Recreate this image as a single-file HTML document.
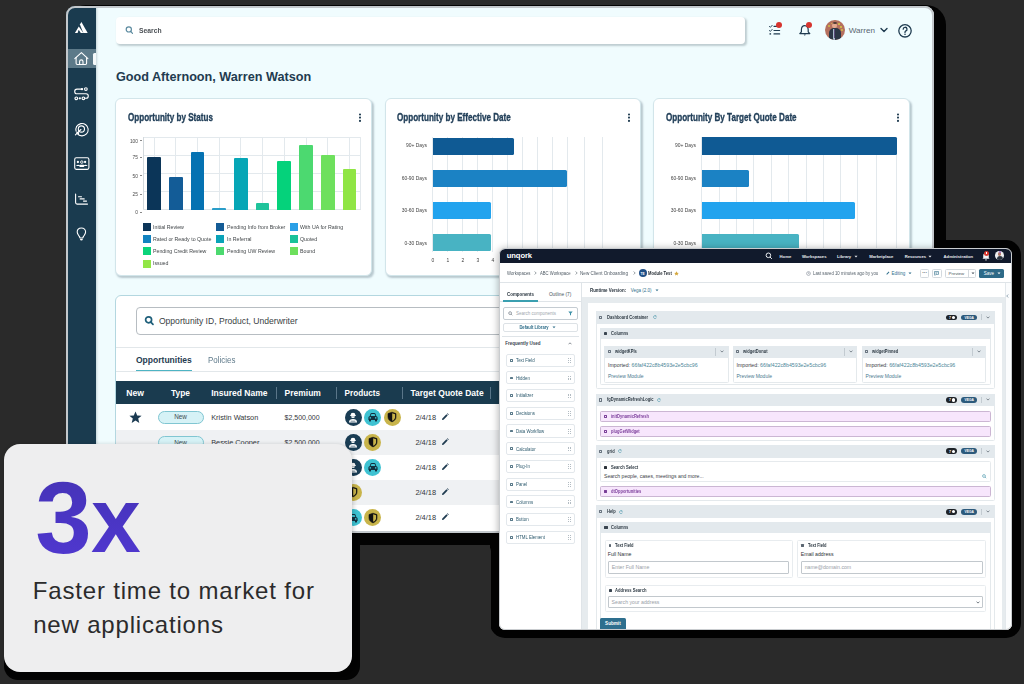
<!DOCTYPE html>
<html><head><meta charset="utf-8"><style>
*{box-sizing:border-box;margin:0;padding:0}
html,body{width:1024px;height:684px;overflow:hidden}
body{background:#2a2a2a;position:relative;font-family:"Liberation Sans",sans-serif}
div,svg{position:absolute}
.t{white-space:nowrap}
.win{overflow:hidden}
.pg{position:absolute;width:1024px;height:684px}
</style></head><body>
<div style="left:66.00px;top:5.00px;width:880.00px;height:540.00px;background:#030303;border-radius:20px"></div>
<div style="left:490.00px;top:240.00px;width:530.50px;height:397.80px;background:#030303;border-radius:15px"></div>
<div style="left:4.00px;top:450.00px;width:356.00px;height:229.60px;background:#030303;border-radius:14px"></div>
<div style="left:360.00px;top:545.00px;width:130.50px;height:155.00px;background:#2a2a2a;border-radius:6px"></div>
<div class="win" style="left:66px;top:6px;width:868px;height:526.5px;border-radius:9px;background:#f0fcfe">
<div class="pg" style="left:-66px;top:-6px">
<div style="left:66.00px;top:6.00px;width:30.00px;height:526.00px;background:#1a3b4f;box-shadow:1px 0 2px rgba(0,30,40,.18)"></div>
<div style="left:67.00px;top:49.00px;width:28.50px;height:19.00px;background:#5d7a89"></div>
<div style="left:93.30px;top:52.80px;width:3.20px;height:12.10px;background:#f4f8f9;border-radius:1.5px 0 0 1.5px"></div>
<svg style="left:70.00px;top:18.00px;" width="24" height="20" viewBox="0 0 24 20"><g fill="#fff"><path d="M4.9 14.9 L8.8 8.4 L13.4 14.9 L10.8 14.9 L8.7 11.7 L7.6 14.9 Z"/><path d="M9.9 6.4 L11.4 4.0 L17.7 14.9 L13.3 14.9 Z"/></g></svg>
<svg style="left:74.00px;top:51.00px;" width="16" height="16" viewBox="0 0 16 16"><g fill="none" stroke="#fff" stroke-width="1.1" stroke-linecap="round" stroke-linejoin="round"><path d="M0.8 7.6 L7.4 1.6 L13.9 7.6"/><path d="M2.1 6.4 V12.3 Q2.1 13.5 3.3 13.5 H11.4 Q12.6 13.5 12.6 12.3 V6.4"/><path d="M5.6 13.3 V10.6 A1.7 1.7 0 0 1 9 10.6 V13.3"/></g></svg>
<svg style="left:74.00px;top:86.00px;" width="16" height="16" viewBox="0 0 16 16"><g fill="none" stroke="#fff" stroke-width="1.1" stroke-linecap="round" stroke-linejoin="round"><path d="M8 3.1 H3 A2.3 2.3 0 0 0 3 7.7 H12 A2.3 2.3 0 0 1 12 12.3 H10.9"/><circle cx="11.9" cy="3.1" r="1.35"/><circle cx="2.3" cy="12.3" r="1.35"/><circle cx="9.4" cy="12.3" r="1.35"/></g><circle cx="8" cy="3.1" r="1.2" fill="#fff"/><circle cx="5.8" cy="12.3" r="1.15" fill="#fff"/></svg>
<svg style="left:74.00px;top:121.50px;" width="16" height="16" viewBox="0 0 16 16"><g fill="none" stroke="#fff" stroke-width="1.1" stroke-linecap="round" stroke-linejoin="round"><path d="M3.2 11.6 A6.2 6.2 0 1 0 2.6 4.6"/><path d="M2.6 4.6 A6.2 6.2 0 0 0 2.1 9.2" /><circle cx="7.4" cy="7" r="3.1"/><path d="M1.4 12.9 L6.9 7.5"/><path d="M2.6 10.2 L4.3 10.5 L4.6 12.2"/></g></svg>
<svg style="left:74.00px;top:157.00px;" width="16" height="16" viewBox="0 0 16 16"><g fill="none" stroke="#fff" stroke-width="1.1" stroke-linecap="round" stroke-linejoin="round"><rect x="0.7" y="0.8" width="14.2" height="11.6" rx="1.6"/></g><g fill="#fff"><circle cx="3.9" cy="5" r="1.15"/><circle cx="11.1" cy="5" r="1.15"/><path d="M1.9 9 Q3.9 6.6 5.9 8.4 L5.6 9 Z"/><path d="M13.7 9 Q11.7 6.6 9.7 8.4 L10 9 Z"/><rect x="5.3" y="7.8" width="5" height="2.2" rx="0.8"/></g><circle cx="7.8" cy="5.1" r="1.25" fill="none" stroke="#fff" stroke-width="0.9"/></svg>
<svg style="left:74.00px;top:191.50px;" width="16" height="16" viewBox="0 0 16 16"><g fill="none" stroke="#fff" stroke-width="1.1" stroke-linecap="round" stroke-linejoin="round"><path d="M1.6 2 V10.6 Q1.6 12.1 3.1 12.1 H13.5"/><path d="M4.5 4.7 H7.5"/><path d="M6.1 6.9 H10.2"/><path d="M9.5 9.1 H12.5"/></g></svg>
<svg style="left:74.00px;top:226.50px;" width="16" height="16" viewBox="0 0 16 16"><g fill="none" stroke="#fff" stroke-width="1.1" stroke-linecap="round" stroke-linejoin="round"><path d="M7.4 1 C4.9 1 3.2 2.8 3.2 5.1 C3.2 6.9 4.4 8 5.3 9.4 C5.7 10 5.9 10.5 6.1 11 H8.7 C8.9 10.5 9.1 10 9.5 9.4 C10.4 8 11.6 6.9 11.6 5.1 C11.6 2.8 9.9 1 7.4 1 Z"/></g><path d="M5.9 12 H8.9 Q8.6 13.6 7.4 13.6 Q6.2 13.6 5.9 12 Z" fill="#fff"/></svg>
<div style="left:115.50px;top:16.80px;width:629.30px;height:27.20px;background:#fff;border-radius:4px;box-shadow:1.2px 1.5px 2px rgba(20,40,50,.22)"></div>
<svg style="left:123.00px;top:24.00px;" width="12" height="12" viewBox="0 0 12 12"><g fill="none" stroke="#5b8a9f" stroke-width="1.2" stroke-linecap="round"><circle cx="5.8" cy="5.4" r="2.6"/><path d="M7.7 7.4 L9.5 9.3"/></g></svg>
<div class="t" style="left:138.70px;top:27.00px;font-size:7.5px;line-height:7.5px;font-weight:700;color:#4a4f54;transform:scaleX(0.9);transform-origin:left center;">Search</div>
<svg style="left:766.00px;top:22.00px;" width="16" height="16" viewBox="0 0 16 16"><g fill="none" stroke="#1f3b50" stroke-linecap="round"><path d="M8 4.3 H13.6" stroke-width="1.2"/><path d="M8 8.5 H13.6" stroke-width="1.2"/><path d="M8 11.9 H13.6" stroke-width="1.2"/><path d="M3.4 4.4 L4.4 5.3 L6.2 3.3" stroke-width="0.9"/><path d="M3.4 8.5 L4.4 9.4 L6.2 7.4" stroke-width="0.9"/></g><rect x="3.5" y="11.2" width="1.6" height="1.4" fill="#1f3b50"/></svg>
<div style="left:776px;top:22.4px;width:6px;height:6px;border-radius:50%;background:#d6342e"></div>
<svg style="left:797.00px;top:22.00px;" width="16" height="16" viewBox="0 0 16 16"><g fill="none" stroke="#1f3b50" stroke-width="1.2" stroke-linejoin="round"><path d="M7.8 3.6 C5.6 3.6 4.4 5.6 4.4 7.8 V9.8 L2.8 11.6 H12.8 L11.2 9.8 V7.8 C11.2 5.6 10 3.6 7.8 3.6 Z"/></g><path d="M6.6 12.6 H9 L7.8 13.8 Z" fill="#1f3b50"/></svg>
<div style="left:806px;top:22.4px;width:6px;height:6px;border-radius:50%;background:#d6342e"></div>
<div style="left:824.9px;top:20.2px;width:19.8px;height:19.8px;border-radius:50%;overflow:hidden;background:#b5705e"><div style="left:4px;top:7.4px;width:12px;height:14px;border-radius:5px 5px 0 0;background:#2b3746"></div><div style="left:8.6px;top:8.4px;width:2px;height:11px;background:#a9bccd"></div><div style="left:9.1px;top:9px;width:1px;height:9px;background:#5a4a7a"></div><div style="left:7.6px;top:2.4px;width:4.4px;height:5.4px;border-radius:50%;background:#e3a98f"></div><div style="left:7.8px;top:1.6px;width:4px;height:1.8px;border-radius:50%;background:#4a3a34"></div><div style="left:3px;top:5px;width:2.2px;height:2px;border-radius:50%;background:#d2c044"></div><div style="left:13px;top:3px;width:2.6px;height:2.2px;border-radius:50%;background:#d2c044"></div><div style="left:16.5px;top:8.6px;width:2px;height:2px;border-radius:50%;background:#d2c044"></div><div style="left:5.8px;top:2.4px;width:1.4px;height:1.4px;border-radius:50%;background:#d2c044"></div><div style="left:15.4px;top:6px;width:1.4px;height:1.4px;border-radius:50%;background:#d2c044"></div></div>
<div class="t" style="left:848.70px;top:27.00px;font-size:8.1px;line-height:8.1px;font-weight:400;color:#5a6670;">Warren</div>
<svg style="left:879.00px;top:26.00px;" width="10" height="8" viewBox="0 0 10 8"><path d="M2 2.6 L5 5.6 L8 2.6" fill="none" stroke="#1f3b50" stroke-width="1.4" stroke-linecap="round" stroke-linejoin="round"/></svg>
<svg style="left:897.00px;top:23.00px;" width="16" height="16" viewBox="0 0 16 16"><g fill="none" stroke="#1f3b50" stroke-width="1.3"><circle cx="8" cy="7.8" r="6.2"/><path d="M6.2 6.2 A1.9 1.9 0 1 1 8.6 8 C8.1 8.2 8 8.6 8 9.4" stroke-linecap="round"/></g><circle cx="8" cy="11.2" r="0.8" fill="#1f3b50"/></svg>
<div class="t" style="left:115.90px;top:71.00px;font-size:12.65px;line-height:12.65px;font-weight:700;color:#1f3b50;">Good Afternoon, Warren Watson</div>
<div style="left:115.30px;top:97.80px;width:256.90px;height:178.20px;background:#fff;border-radius:6px;border:1px solid #d2e5ea;box-shadow:1.5px 2px 2px rgba(40,70,85,.28)"></div>
<div class="t" style="left:128.00px;top:112.00px;font-size:11px;line-height:11px;font-weight:700;color:#23405a;transform:scaleX(0.735);transform-origin:left center;-webkit-text-stroke:0.35px #23405a">Opportunity by Status</div>
<svg style="left:357.60px;top:111.90px;" width="4" height="11" viewBox="0 0 4 11"><g fill="#1f3b50"><circle cx="2" cy="2.5" r="1.05"/><circle cx="2" cy="5.6" r="1.05"/><circle cx="2" cy="8.9" r="1.05"/></g></svg>
<div style="left:384.50px;top:97.80px;width:256.90px;height:178.20px;background:#fff;border-radius:6px;border:1px solid #d2e5ea;box-shadow:1.5px 2px 2px rgba(40,70,85,.28)"></div>
<div class="t" style="left:397.00px;top:112.00px;font-size:11px;line-height:11px;font-weight:700;color:#23405a;transform:scaleX(0.735);transform-origin:left center;-webkit-text-stroke:0.35px #23405a">Opportunity by Effective Date</div>
<svg style="left:626.60px;top:111.90px;" width="4" height="11" viewBox="0 0 4 11"><g fill="#1f3b50"><circle cx="2" cy="2.5" r="1.05"/><circle cx="2" cy="5.6" r="1.05"/><circle cx="2" cy="8.9" r="1.05"/></g></svg>
<div style="left:653.30px;top:97.80px;width:256.90px;height:178.20px;background:#fff;border-radius:6px;border:1px solid #d2e5ea;box-shadow:1.5px 2px 2px rgba(40,70,85,.28)"></div>
<div class="t" style="left:666.00px;top:112.00px;font-size:11px;line-height:11px;font-weight:700;color:#23405a;transform:scaleX(0.735);transform-origin:left center;-webkit-text-stroke:0.35px #23405a">Opportunity By Target Quote Date</div>
<svg style="left:895.60px;top:111.90px;" width="4" height="11" viewBox="0 0 4 11"><g fill="#1f3b50"><circle cx="2" cy="2.5" r="1.05"/><circle cx="2" cy="5.6" r="1.05"/><circle cx="2" cy="8.9" r="1.05"/></g></svg>
<div style="left:143.00px;top:136.70px;width:217.50px;height:0.80px;background:#e3e9ed"></div>
<div style="left:143.00px;top:154.90px;width:217.50px;height:0.80px;background:#e3e9ed"></div>
<div style="left:143.00px;top:173.10px;width:217.50px;height:0.80px;background:#e3e9ed"></div>
<div style="left:143.00px;top:191.20px;width:217.50px;height:0.80px;background:#e3e9ed"></div>
<div style="left:153.55px;top:136.80px;width:0.80px;height:73.00px;background:#e3e9ed"></div>
<div style="left:175.27px;top:136.80px;width:0.80px;height:73.00px;background:#e3e9ed"></div>
<div style="left:196.99px;top:136.80px;width:0.80px;height:73.00px;background:#e3e9ed"></div>
<div style="left:218.71px;top:136.80px;width:0.80px;height:73.00px;background:#e3e9ed"></div>
<div style="left:240.43px;top:136.80px;width:0.80px;height:73.00px;background:#e3e9ed"></div>
<div style="left:262.15px;top:136.80px;width:0.80px;height:73.00px;background:#e3e9ed"></div>
<div style="left:283.87px;top:136.80px;width:0.80px;height:73.00px;background:#e3e9ed"></div>
<div style="left:305.59px;top:136.80px;width:0.80px;height:73.00px;background:#e3e9ed"></div>
<div style="left:327.31px;top:136.80px;width:0.80px;height:73.00px;background:#e3e9ed"></div>
<div style="left:349.03px;top:136.80px;width:0.80px;height:73.00px;background:#e3e9ed"></div>
<div style="left:360.10px;top:136.80px;width:0.80px;height:73.00px;background:#e3e9ed"></div>
<div style="left:142.70px;top:136.80px;width:0.80px;height:73.40px;background:#d3d9dd"></div>
<div style="left:143.00px;top:209.40px;width:217.50px;height:0.80px;background:#dfe5e8"></div>
<div class="t" style="left:-262.20px;width:400px;text-align:right;top:139.00px;font-size:5.4px;line-height:5.4px;font-weight:400;color:#4a4a4a;transform:scaleX(0.9);transform-origin:right center;">100</div>
<div style="left:140.20px;top:140.35px;width:1.80px;height:0.70px;background:#888"></div>
<div class="t" style="left:-262.20px;width:400px;text-align:right;top:155.00px;font-size:5.4px;line-height:5.4px;font-weight:400;color:#4a4a4a;transform:scaleX(0.9);transform-origin:right center;">75</div>
<div style="left:140.20px;top:157.15px;width:1.80px;height:0.70px;background:#888"></div>
<div class="t" style="left:-262.20px;width:400px;text-align:right;top:174.00px;font-size:5.4px;line-height:5.4px;font-weight:400;color:#4a4a4a;transform:scaleX(0.9);transform-origin:right center;">50</div>
<div style="left:140.20px;top:175.25px;width:1.80px;height:0.70px;background:#888"></div>
<div class="t" style="left:-262.20px;width:400px;text-align:right;top:192.00px;font-size:5.4px;line-height:5.4px;font-weight:400;color:#4a4a4a;transform:scaleX(0.9);transform-origin:right center;">25</div>
<div style="left:140.20px;top:193.65px;width:1.80px;height:0.70px;background:#888"></div>
<div class="t" style="left:-262.20px;width:400px;text-align:right;top:210.00px;font-size:5.4px;line-height:5.4px;font-weight:400;color:#4a4a4a;transform:scaleX(0.9);transform-origin:right center;">0</div>
<div style="left:140.20px;top:211.65px;width:1.80px;height:0.70px;background:#888"></div>
<div style="left:147.10px;top:157.10px;width:13.70px;height:52.60px;background:#0b3558;border-radius:1px 1px 0 0"></div>
<div style="left:168.82px;top:177.40px;width:13.70px;height:32.30px;background:#135c97;border-radius:1px 1px 0 0"></div>
<div style="left:190.54px;top:151.90px;width:13.70px;height:57.80px;background:#0572b2;border-radius:1px 1px 0 0"></div>
<div style="left:212.26px;top:207.90px;width:13.70px;height:1.80px;background:#2a9dc9;border-radius:1px 1px 0 0"></div>
<div style="left:233.98px;top:158.30px;width:13.70px;height:51.40px;background:#06a6b6;border-radius:1px 1px 0 0"></div>
<div style="left:255.70px;top:202.80px;width:13.70px;height:6.90px;background:#1fc39b;border-radius:1px 1px 0 0"></div>
<div style="left:277.42px;top:160.70px;width:13.70px;height:49.00px;background:#05d27b;border-radius:1px 1px 0 0"></div>
<div style="left:299.14px;top:145.10px;width:13.70px;height:64.60px;background:#4cd970;border-radius:1px 1px 0 0"></div>
<div style="left:320.86px;top:155.40px;width:13.70px;height:54.30px;background:#6ee05d;border-radius:1px 1px 0 0"></div>
<div style="left:342.58px;top:169.20px;width:13.70px;height:40.50px;background:#90e544;border-radius:1px 1px 0 0"></div>
<div style="left:142.70px;top:223.40px;width:8.00px;height:8.00px;background:#0c3558"></div>
<div class="t" style="left:153.30px;top:225.00px;font-size:5.8px;line-height:5.8px;font-weight:400;color:#404548;transform:scaleX(0.905);transform-origin:left center;">Initial Review</div>
<div style="left:216.30px;top:223.40px;width:8.00px;height:8.00px;background:#145c96"></div>
<div class="t" style="left:226.90px;top:225.00px;font-size:5.8px;line-height:5.8px;font-weight:400;color:#404548;transform:scaleX(0.905);transform-origin:left center;">Pending Info from Broker</div>
<div style="left:289.70px;top:223.40px;width:8.00px;height:8.00px;background:#2a9fe6"></div>
<div class="t" style="left:300.30px;top:225.00px;font-size:5.8px;line-height:5.8px;font-weight:400;color:#404548;transform:scaleX(0.905);transform-origin:left center;">With UA for Rating</div>
<div style="left:142.70px;top:235.40px;width:8.00px;height:8.00px;background:#1383c0"></div>
<div class="t" style="left:153.30px;top:237.00px;font-size:5.8px;line-height:5.8px;font-weight:400;color:#404548;transform:scaleX(0.905);transform-origin:left center;">Rated or Ready to Quote</div>
<div style="left:216.30px;top:235.40px;width:8.00px;height:8.00px;background:#0aa3b8"></div>
<div class="t" style="left:226.90px;top:237.00px;font-size:5.8px;line-height:5.8px;font-weight:400;color:#404548;transform:scaleX(0.905);transform-origin:left center;">In Referral</div>
<div style="left:289.70px;top:235.40px;width:8.00px;height:8.00px;background:#19c29a"></div>
<div class="t" style="left:300.30px;top:237.00px;font-size:5.8px;line-height:5.8px;font-weight:400;color:#404548;transform:scaleX(0.905);transform-origin:left center;">Quoted</div>
<div style="left:142.70px;top:247.40px;width:8.00px;height:8.00px;background:#0bd47a"></div>
<div class="t" style="left:153.30px;top:249.00px;font-size:5.8px;line-height:5.8px;font-weight:400;color:#404548;transform:scaleX(0.905);transform-origin:left center;">Pending Credit Review</div>
<div style="left:216.30px;top:247.40px;width:8.00px;height:8.00px;background:#4cd96f"></div>
<div class="t" style="left:226.90px;top:249.00px;font-size:5.8px;line-height:5.8px;font-weight:400;color:#404548;transform:scaleX(0.905);transform-origin:left center;">Pending UW Review</div>
<div style="left:289.70px;top:247.40px;width:8.00px;height:8.00px;background:#6ddf5c"></div>
<div class="t" style="left:300.30px;top:249.00px;font-size:5.8px;line-height:5.8px;font-weight:400;color:#404548;transform:scaleX(0.905);transform-origin:left center;">Bound</div>
<div style="left:142.70px;top:259.50px;width:8.00px;height:8.00px;background:#92e646"></div>
<div class="t" style="left:153.30px;top:261.00px;font-size:5.8px;line-height:5.8px;font-weight:400;color:#404548;transform:scaleX(0.905);transform-origin:left center;">Issued</div>
<div style="left:432.15px;top:137.00px;width:0.70px;height:115.00px;background:#e3e9ed"></div>
<div style="left:447.18px;top:137.00px;width:0.70px;height:115.00px;background:#e3e9ed"></div>
<div style="left:462.21px;top:137.00px;width:0.70px;height:115.00px;background:#e3e9ed"></div>
<div style="left:477.24px;top:137.00px;width:0.70px;height:115.00px;background:#e3e9ed"></div>
<div style="left:492.27px;top:137.00px;width:0.70px;height:115.00px;background:#e3e9ed"></div>
<div style="left:507.30px;top:137.00px;width:0.70px;height:115.00px;background:#e3e9ed"></div>
<div style="left:522.33px;top:137.00px;width:0.70px;height:115.00px;background:#e3e9ed"></div>
<div style="left:537.36px;top:137.00px;width:0.70px;height:115.00px;background:#e3e9ed"></div>
<div style="left:552.39px;top:137.00px;width:0.70px;height:115.00px;background:#e3e9ed"></div>
<div style="left:567.42px;top:137.00px;width:0.70px;height:115.00px;background:#e3e9ed"></div>
<div style="left:584.05px;top:137.00px;width:0.70px;height:115.00px;background:#e3e9ed"></div>
<div style="left:601.85px;top:137.00px;width:0.70px;height:115.00px;background:#e3e9ed"></div>
<div class="t" style="left:26.50px;width:400px;text-align:right;top:143.00px;font-size:5.5px;line-height:5.5px;font-weight:400;color:#3f3f3f;transform:scaleX(0.9);transform-origin:right center;">90+ Days</div>
<div class="t" style="left:26.50px;width:400px;text-align:right;top:176.00px;font-size:5.5px;line-height:5.5px;font-weight:400;color:#3f3f3f;transform:scaleX(0.9);transform-origin:right center;">60-90 Days</div>
<div class="t" style="left:26.50px;width:400px;text-align:right;top:208.00px;font-size:5.5px;line-height:5.5px;font-weight:400;color:#3f3f3f;transform:scaleX(0.9);transform-origin:right center;">30-60 Days</div>
<div class="t" style="left:26.50px;width:400px;text-align:right;top:241.00px;font-size:5.5px;line-height:5.5px;font-weight:400;color:#3f3f3f;transform:scaleX(0.9);transform-origin:right center;">0-30 Days</div>
<div style="left:432.50px;top:137.50px;width:81.20px;height:17.40px;background:#0f5a94;border-radius:0 1.5px 1.5px 0"></div>
<div style="left:432.50px;top:169.60px;width:134.30px;height:17.40px;background:#1b82c4;border-radius:0 1.5px 1.5px 0"></div>
<div style="left:432.50px;top:201.50px;width:58.20px;height:17.30px;background:#22a3ee;border-radius:0 1.5px 1.5px 0"></div>
<div style="left:432.50px;top:233.50px;width:58.20px;height:17.30px;background:#48b3c3;border-radius:0 1.5px 1.5px 0"></div>
<div class="t" style="left:232.50px;width:400px;text-align:center;top:258.00px;font-size:5.4px;line-height:5.4px;font-weight:400;color:#3f3f3f;transform:scaleX(0.92);transform-origin:center center;">0</div>
<div class="t" style="left:247.53px;width:400px;text-align:center;top:258.00px;font-size:5.4px;line-height:5.4px;font-weight:400;color:#3f3f3f;transform:scaleX(0.92);transform-origin:center center;">1</div>
<div class="t" style="left:262.56px;width:400px;text-align:center;top:258.00px;font-size:5.4px;line-height:5.4px;font-weight:400;color:#3f3f3f;transform:scaleX(0.92);transform-origin:center center;">2</div>
<div class="t" style="left:277.59px;width:400px;text-align:center;top:258.00px;font-size:5.4px;line-height:5.4px;font-weight:400;color:#3f3f3f;transform:scaleX(0.92);transform-origin:center center;">3</div>
<div class="t" style="left:292.62px;width:400px;text-align:center;top:258.00px;font-size:5.4px;line-height:5.4px;font-weight:400;color:#3f3f3f;transform:scaleX(0.92);transform-origin:center center;">4</div>
<div class="t" style="left:307.65px;width:400px;text-align:center;top:258.00px;font-size:5.4px;line-height:5.4px;font-weight:400;color:#3f3f3f;transform:scaleX(0.92);transform-origin:center center;">5</div>
<div class="t" style="left:322.68px;width:400px;text-align:center;top:258.00px;font-size:5.4px;line-height:5.4px;font-weight:400;color:#3f3f3f;transform:scaleX(0.92);transform-origin:center center;">6</div>
<div class="t" style="left:337.71px;width:400px;text-align:center;top:258.00px;font-size:5.4px;line-height:5.4px;font-weight:400;color:#3f3f3f;transform:scaleX(0.92);transform-origin:center center;">7</div>
<div style="left:701.45px;top:137.00px;width:0.70px;height:115.00px;background:#e3e9ed"></div>
<div style="left:718.55px;top:137.00px;width:0.70px;height:115.00px;background:#e3e9ed"></div>
<div style="left:735.95px;top:137.00px;width:0.70px;height:115.00px;background:#e3e9ed"></div>
<div style="left:753.35px;top:137.00px;width:0.70px;height:115.00px;background:#e3e9ed"></div>
<div style="left:770.85px;top:137.00px;width:0.70px;height:115.00px;background:#e3e9ed"></div>
<div style="left:788.25px;top:137.00px;width:0.70px;height:115.00px;background:#e3e9ed"></div>
<div style="left:805.55px;top:137.00px;width:0.70px;height:115.00px;background:#e3e9ed"></div>
<div style="left:822.65px;top:137.00px;width:0.70px;height:115.00px;background:#e3e9ed"></div>
<div style="left:839.95px;top:137.00px;width:0.70px;height:115.00px;background:#e3e9ed"></div>
<div style="left:857.25px;top:137.00px;width:0.70px;height:115.00px;background:#e3e9ed"></div>
<div style="left:876.25px;top:137.00px;width:0.70px;height:115.00px;background:#e3e9ed"></div>
<div style="left:896.05px;top:137.00px;width:0.70px;height:115.00px;background:#e3e9ed"></div>
<div class="t" style="left:295.90px;width:400px;text-align:right;top:143.00px;font-size:5.5px;line-height:5.5px;font-weight:400;color:#3f3f3f;transform:scaleX(0.9);transform-origin:right center;">90+ Days</div>
<div class="t" style="left:295.90px;width:400px;text-align:right;top:176.00px;font-size:5.5px;line-height:5.5px;font-weight:400;color:#3f3f3f;transform:scaleX(0.9);transform-origin:right center;">60-90 Days</div>
<div class="t" style="left:295.90px;width:400px;text-align:right;top:208.00px;font-size:5.5px;line-height:5.5px;font-weight:400;color:#3f3f3f;transform:scaleX(0.9);transform-origin:right center;">30-60 Days</div>
<div class="t" style="left:295.90px;width:400px;text-align:right;top:241.00px;font-size:5.5px;line-height:5.5px;font-weight:400;color:#3f3f3f;transform:scaleX(0.9);transform-origin:right center;">0-30 Days</div>
<div style="left:701.80px;top:137.30px;width:194.90px;height:17.70px;background:#0f5a94;border-radius:0 1.5px 1.5px 0"></div>
<div style="left:701.80px;top:169.50px;width:46.80px;height:17.50px;background:#1b82c4;border-radius:0 1.5px 1.5px 0"></div>
<div style="left:701.80px;top:201.50px;width:153.50px;height:17.30px;background:#22a3ee;border-radius:0 1.5px 1.5px 0"></div>
<div style="left:701.80px;top:233.50px;width:97.70px;height:17.30px;background:#48b3c3;border-radius:0 1.5px 1.5px 0"></div>
<div style="left:114.80px;top:294.60px;width:845.20px;height:265.40px;background:#fff;border:1.2px solid #b3d7e0;border-radius:6px"></div>
<div style="left:135.60px;top:307.30px;width:804.40px;height:27.30px;background:#fff;border:1px solid #b7bdc2;border-radius:4px"></div>
<svg style="left:143.00px;top:314.00px;" width="14" height="14" viewBox="0 0 14 14"><g fill="none" stroke="#1e5f7a" stroke-width="1.7" stroke-linecap="round"><circle cx="5.6" cy="5.8" r="3"/><path d="M7.8 8.1 L10 10.4"/></g></svg>
<div class="t" style="left:158.90px;top:317.00px;font-size:8.58px;line-height:8.58px;font-weight:400;color:#3a3f44;">Opportunity ID, Product, Underwriter</div>
<div style="left:116.00px;top:346.80px;width:844.00px;height:1.00px;background:#e2e7ea"></div>
<div class="t" style="left:136.00px;top:356.00px;font-size:8.53px;line-height:8.53px;font-weight:700;color:#1f3b50;">Opportunities</div>
<div class="t" style="left:207.70px;top:356.00px;font-size:8.6px;line-height:8.6px;font-weight:400;color:#5f7a8a;transform:scaleX(0.925);transform-origin:left center;">Policies</div>
<div style="left:136.00px;top:369.80px;width:56.00px;height:2.10px;background:#4db4c3"></div>
<div style="left:116.00px;top:371.40px;width:844.00px;height:0.80px;background:#e2e7ea"></div>
<div style="left:115.50px;top:380.80px;width:844.50px;height:23.60px;background:#1a3b4f"></div>
<div class="t" style="left:126.20px;top:389.00px;font-size:8.6px;line-height:8.6px;font-weight:700;color:#fff;">New</div>
<div class="t" style="left:171.10px;top:389.00px;font-size:8.4px;line-height:8.4px;font-weight:700;color:#fff;">Type</div>
<div class="t" style="left:211.20px;top:389.00px;font-size:8.53px;line-height:8.53px;font-weight:700;color:#fff;">Insured Name</div>
<div class="t" style="left:284.60px;top:389.00px;font-size:8.48px;line-height:8.48px;font-weight:700;color:#fff;">Premium</div>
<div class="t" style="left:344.60px;top:390.00px;font-size:8.19px;line-height:8.19px;font-weight:700;color:#fff;">Products</div>
<div class="t" style="left:410.50px;top:389.00px;font-size:8.52px;line-height:8.52px;font-weight:700;color:#fff;">Target Quote Date</div>
<div style="left:275.50px;top:387.00px;width:1.00px;height:11.50px;background:#5a7689"></div>
<div style="left:336.20px;top:387.00px;width:1.00px;height:11.50px;background:#5a7689"></div>
<div style="left:401.60px;top:387.00px;width:1.00px;height:11.50px;background:#5a7689"></div>
<div style="left:489.80px;top:387.00px;width:1.00px;height:11.50px;background:#5a7689"></div>
<svg style="left:129.20px;top:411.40px;" width="13" height="13" viewBox="0 0 13 13"><path d="M6.5 0.4 L8.2 4.5 L12.6 4.7 L9.2 7.5 L10.3 11.9 L6.5 9.5 L2.7 11.9 L3.8 7.5 L0.4 4.7 L4.8 4.5 Z" fill="#1b3a51"/></svg>
<div style="left:157.6px;top:410.60px;width:46px;height:13px;border-radius:7px;background:#d6f2f6;border:1px solid #80c6d2"></div>
<div class="t" style="left:-19.40px;width:400px;text-align:center;top:414.00px;font-size:6.4px;line-height:6.4px;font-weight:400;color:#3d4a52;">New</div>
<div class="t" style="left:211.20px;top:414.00px;font-size:7.35px;line-height:7.35px;font-weight:400;color:#33373b;">Kristin Watson</div>
<div class="t" style="left:284.60px;top:414.00px;font-size:7.0px;line-height:7.0px;font-weight:400;color:#33373b;">$2,500,000</div>
<div style="left:344.80px;top:408.50px;width:17.2px;height:17.2px;border-radius:50%;background:#1a3d54"></div>
<svg style="left:347.40px;top:411.10px;" width="12" height="12" viewBox="0 0 12 12"><g fill="#fff"><path d="M3.6 4.2 A2.4 2.4 0 0 1 8.4 4.2 Z"/><rect x="3.2" y="4" width="5.6" height="0.9" rx="0.3"/><path d="M4.1 5.2 H7.9 A1.9 1.9 0 0 1 4.1 5.2 Z"/><path d="M2 11.4 C2 9 3.6 8 6 8 C8.4 8 10 9 10 11.4 Z"/></g><path d="M3.6 10.2 H8.4" stroke="#1a3d54" stroke-width="0.6"/></svg>
<div style="left:364.30px;top:408.50px;width:17.2px;height:17.2px;border-radius:50%;background:#3ec2d2"></div>
<svg style="left:366.90px;top:411.10px;" width="12" height="12" viewBox="0 0 12 12"><g fill="#13303f"><path d="M2.6 5.2 L3.6 2.6 C3.8 2.2 4.2 2 4.6 2 H7.4 C7.8 2 8.2 2.2 8.4 2.6 L9.4 5.2 C10.2 5.4 10.6 6 10.6 6.8 V9 H1.4 V6.8 C1.4 6 1.8 5.4 2.6 5.2 Z"/><rect x="2" y="8.6" width="2" height="1.8" rx="0.4"/><rect x="8" y="8.6" width="2" height="1.8" rx="0.4"/></g><g fill="#3ec2d2"><path d="M3.7 5 L4.4 3 H7.6 L8.3 5 Z"/><circle cx="3.3" cy="6.9" r="0.8"/><circle cx="8.7" cy="6.9" r="0.8"/></g></svg>
<div style="left:383.80px;top:408.50px;width:17.2px;height:17.2px;border-radius:50%;background:#c8b44a"></div>
<svg style="left:386.40px;top:411.10px;" width="12" height="12" viewBox="0 0 12 12"><path d="M6 1.2 L10 2.6 V6 C10 8.4 8.2 10 6 10.9 C3.8 10 2 8.4 2 6 V2.6 Z" fill="#111" stroke="#111" stroke-width="0.6"/><path d="M6.2 2.2 L9.1 3.2 V6 C9.1 7.8 7.8 9.1 6.2 9.8 Z" fill="#c8b44a"/></svg>
<div class="t" style="left:415.40px;top:414.00px;font-size:7.45px;line-height:7.45px;font-weight:400;color:#33373b;">2/4/18</div>
<svg style="left:440.50px;top:412.80px;" width="8" height="8" viewBox="0 0 8 8"><path d="M1 7 L1.3 5.4 L5.4 1.3 L6.7 2.6 L2.6 6.7 Z" fill="#1f3b50"/><path d="M5.9 0.8 L6.5 0.2 L7.8 1.5 L7.2 2.1 Z" fill="#1f3b50"/></svg>
<div style="left:116.00px;top:429.50px;width:844.00px;height:25.10px;background:#eff1f3"></div>
<div style="left:157.6px;top:435.70px;width:46px;height:13px;border-radius:7px;background:#d6f2f6;border:1px solid #80c6d2"></div>
<div class="t" style="left:-19.40px;width:400px;text-align:center;top:440.00px;font-size:6.4px;line-height:6.4px;font-weight:400;color:#3d4a52;">New</div>
<div class="t" style="left:211.20px;top:439.00px;font-size:7.35px;line-height:7.35px;font-weight:400;color:#33373b;">Bessie Cooper</div>
<div class="t" style="left:284.60px;top:439.00px;font-size:7.0px;line-height:7.0px;font-weight:400;color:#33373b;">$2,500,000</div>
<div style="left:344.80px;top:433.60px;width:17.2px;height:17.2px;border-radius:50%;background:#1a3d54"></div>
<svg style="left:347.40px;top:436.20px;" width="12" height="12" viewBox="0 0 12 12"><g fill="#fff"><path d="M3.6 4.2 A2.4 2.4 0 0 1 8.4 4.2 Z"/><rect x="3.2" y="4" width="5.6" height="0.9" rx="0.3"/><path d="M4.1 5.2 H7.9 A1.9 1.9 0 0 1 4.1 5.2 Z"/><path d="M2 11.4 C2 9 3.6 8 6 8 C8.4 8 10 9 10 11.4 Z"/></g><path d="M3.6 10.2 H8.4" stroke="#1a3d54" stroke-width="0.6"/></svg>
<div style="left:364.30px;top:433.60px;width:17.2px;height:17.2px;border-radius:50%;background:#c8b44a"></div>
<svg style="left:366.90px;top:436.20px;" width="12" height="12" viewBox="0 0 12 12"><path d="M6 1.2 L10 2.6 V6 C10 8.4 8.2 10 6 10.9 C3.8 10 2 8.4 2 6 V2.6 Z" fill="#111" stroke="#111" stroke-width="0.6"/><path d="M6.2 2.2 L9.1 3.2 V6 C9.1 7.8 7.8 9.1 6.2 9.8 Z" fill="#c8b44a"/></svg>
<div class="t" style="left:415.40px;top:439.00px;font-size:7.45px;line-height:7.45px;font-weight:400;color:#33373b;">2/4/18</div>
<svg style="left:440.50px;top:437.90px;" width="8" height="8" viewBox="0 0 8 8"><path d="M1 7 L1.3 5.4 L5.4 1.3 L6.7 2.6 L2.6 6.7 Z" fill="#1f3b50"/><path d="M5.9 0.8 L6.5 0.2 L7.8 1.5 L7.2 2.1 Z" fill="#1f3b50"/></svg>
<div style="left:157.6px;top:460.80px;width:46px;height:13px;border-radius:7px;background:#d6f2f6;border:1px solid #80c6d2"></div>
<div class="t" style="left:-19.40px;width:400px;text-align:center;top:465.00px;font-size:6.4px;line-height:6.4px;font-weight:400;color:#3d4a52;">New</div>
<div class="t" style="left:211.20px;top:464.00px;font-size:7.35px;line-height:7.35px;font-weight:400;color:#33373b;">Annette Black</div>
<div class="t" style="left:284.60px;top:464.00px;font-size:7.0px;line-height:7.0px;font-weight:400;color:#33373b;">$2,500,000</div>
<div style="left:344.80px;top:458.70px;width:17.2px;height:17.2px;border-radius:50%;background:#1a3d54"></div>
<svg style="left:347.40px;top:461.30px;" width="12" height="12" viewBox="0 0 12 12"><g fill="#fff"><path d="M3.6 4.2 A2.4 2.4 0 0 1 8.4 4.2 Z"/><rect x="3.2" y="4" width="5.6" height="0.9" rx="0.3"/><path d="M4.1 5.2 H7.9 A1.9 1.9 0 0 1 4.1 5.2 Z"/><path d="M2 11.4 C2 9 3.6 8 6 8 C8.4 8 10 9 10 11.4 Z"/></g><path d="M3.6 10.2 H8.4" stroke="#1a3d54" stroke-width="0.6"/></svg>
<div style="left:364.30px;top:458.70px;width:17.2px;height:17.2px;border-radius:50%;background:#3ec2d2"></div>
<svg style="left:366.90px;top:461.30px;" width="12" height="12" viewBox="0 0 12 12"><g fill="#13303f"><path d="M2.6 5.2 L3.6 2.6 C3.8 2.2 4.2 2 4.6 2 H7.4 C7.8 2 8.2 2.2 8.4 2.6 L9.4 5.2 C10.2 5.4 10.6 6 10.6 6.8 V9 H1.4 V6.8 C1.4 6 1.8 5.4 2.6 5.2 Z"/><rect x="2" y="8.6" width="2" height="1.8" rx="0.4"/><rect x="8" y="8.6" width="2" height="1.8" rx="0.4"/></g><g fill="#3ec2d2"><path d="M3.7 5 L4.4 3 H7.6 L8.3 5 Z"/><circle cx="3.3" cy="6.9" r="0.8"/><circle cx="8.7" cy="6.9" r="0.8"/></g></svg>
<div class="t" style="left:415.40px;top:464.00px;font-size:7.45px;line-height:7.45px;font-weight:400;color:#33373b;">2/4/18</div>
<svg style="left:440.50px;top:463.00px;" width="8" height="8" viewBox="0 0 8 8"><path d="M1 7 L1.3 5.4 L5.4 1.3 L6.7 2.6 L2.6 6.7 Z" fill="#1f3b50"/><path d="M5.9 0.8 L6.5 0.2 L7.8 1.5 L7.2 2.1 Z" fill="#1f3b50"/></svg>
<div style="left:116.00px;top:479.70px;width:844.00px;height:25.10px;background:#eff1f3"></div>
<div style="left:157.6px;top:485.90px;width:46px;height:13px;border-radius:7px;background:#d6f2f6;border:1px solid #80c6d2"></div>
<div class="t" style="left:-19.40px;width:400px;text-align:center;top:490.00px;font-size:6.4px;line-height:6.4px;font-weight:400;color:#3d4a52;">New</div>
<div class="t" style="left:211.20px;top:489.00px;font-size:7.35px;line-height:7.35px;font-weight:400;color:#33373b;">Jane Cooper</div>
<div class="t" style="left:284.60px;top:489.00px;font-size:7.0px;line-height:7.0px;font-weight:400;color:#33373b;">$2,500,000</div>
<div style="left:344.80px;top:483.80px;width:17.2px;height:17.2px;border-radius:50%;background:#c8b44a"></div>
<svg style="left:347.40px;top:486.40px;" width="12" height="12" viewBox="0 0 12 12"><path d="M6 1.2 L10 2.6 V6 C10 8.4 8.2 10 6 10.9 C3.8 10 2 8.4 2 6 V2.6 Z" fill="#111" stroke="#111" stroke-width="0.6"/><path d="M6.2 2.2 L9.1 3.2 V6 C9.1 7.8 7.8 9.1 6.2 9.8 Z" fill="#c8b44a"/></svg>
<div class="t" style="left:415.40px;top:489.00px;font-size:7.45px;line-height:7.45px;font-weight:400;color:#33373b;">2/4/18</div>
<svg style="left:440.50px;top:488.10px;" width="8" height="8" viewBox="0 0 8 8"><path d="M1 7 L1.3 5.4 L5.4 1.3 L6.7 2.6 L2.6 6.7 Z" fill="#1f3b50"/><path d="M5.9 0.8 L6.5 0.2 L7.8 1.5 L7.2 2.1 Z" fill="#1f3b50"/></svg>
<div style="left:157.6px;top:511.00px;width:46px;height:13px;border-radius:7px;background:#d6f2f6;border:1px solid #80c6d2"></div>
<div class="t" style="left:-19.40px;width:400px;text-align:center;top:515.00px;font-size:6.4px;line-height:6.4px;font-weight:400;color:#3d4a52;">New</div>
<div class="t" style="left:211.20px;top:514.00px;font-size:7.35px;line-height:7.35px;font-weight:400;color:#33373b;">Guy Hawkins</div>
<div class="t" style="left:284.60px;top:514.00px;font-size:7.0px;line-height:7.0px;font-weight:400;color:#33373b;">$2,500,000</div>
<div style="left:344.80px;top:508.90px;width:17.2px;height:17.2px;border-radius:50%;background:#3ec2d2"></div>
<svg style="left:347.40px;top:511.50px;" width="12" height="12" viewBox="0 0 12 12"><g fill="#13303f"><path d="M2.6 5.2 L3.6 2.6 C3.8 2.2 4.2 2 4.6 2 H7.4 C7.8 2 8.2 2.2 8.4 2.6 L9.4 5.2 C10.2 5.4 10.6 6 10.6 6.8 V9 H1.4 V6.8 C1.4 6 1.8 5.4 2.6 5.2 Z"/><rect x="2" y="8.6" width="2" height="1.8" rx="0.4"/><rect x="8" y="8.6" width="2" height="1.8" rx="0.4"/></g><g fill="#3ec2d2"><path d="M3.7 5 L4.4 3 H7.6 L8.3 5 Z"/><circle cx="3.3" cy="6.9" r="0.8"/><circle cx="8.7" cy="6.9" r="0.8"/></g></svg>
<div style="left:364.30px;top:508.90px;width:17.2px;height:17.2px;border-radius:50%;background:#c8b44a"></div>
<svg style="left:366.90px;top:511.50px;" width="12" height="12" viewBox="0 0 12 12"><path d="M6 1.2 L10 2.6 V6 C10 8.4 8.2 10 6 10.9 C3.8 10 2 8.4 2 6 V2.6 Z" fill="#111" stroke="#111" stroke-width="0.6"/><path d="M6.2 2.2 L9.1 3.2 V6 C9.1 7.8 7.8 9.1 6.2 9.8 Z" fill="#c8b44a"/></svg>
<div class="t" style="left:415.40px;top:514.00px;font-size:7.45px;line-height:7.45px;font-weight:400;color:#33373b;">2/4/18</div>
<svg style="left:440.50px;top:513.20px;" width="8" height="8" viewBox="0 0 8 8"><path d="M1 7 L1.3 5.4 L5.4 1.3 L6.7 2.6 L2.6 6.7 Z" fill="#1f3b50"/><path d="M5.9 0.8 L6.5 0.2 L7.8 1.5 L7.2 2.1 Z" fill="#1f3b50"/></svg>
</div></div>
<div style="left:66.00px;top:6.00px;width:868.00px;height:526.50px;border:2px solid #c3c8cc;border-radius:9px"></div>
<div style="left:499.00px;top:249.00px;width:513.00px;height:381.00px;border-radius:6px;box-shadow:0 0 7px 1px rgba(0,0,0,.28)"></div>
<div class="win" style="left:499px;top:249px;width:513px;height:381px;border-radius:6px;background:#fff">
<div class="pg" style="left:-499px;top:-249px">
<div style="left:499.00px;top:249.00px;width:513.00px;height:13.80px;background:#111a2c"></div>
<div class="t" style="left:506.80px;top:252.00px;font-size:7.6px;line-height:7.6px;font-weight:700;color:#fff;letter-spacing:-0.1px">unqork</div>
<svg style="left:765.00px;top:252.30px;" width="8" height="8" viewBox="0 0 8 8"><g fill="none" stroke="#e8ecf0" stroke-width="1"><circle cx="3.4" cy="3.3" r="2.3"/><path d="M5 5 L6.9 6.9"/></g></svg>
<div class="t" style="left:779.60px;top:255.00px;font-size:4.2px;line-height:4.2px;font-weight:700;color:#e6eaee;">Home</div>
<div class="t" style="left:801.90px;top:255.00px;font-size:4.2px;line-height:4.2px;font-weight:700;color:#e6eaee;">Workspaces</div>
<div class="t" style="left:837.00px;top:255.00px;font-size:4.2px;line-height:4.2px;font-weight:700;color:#e6eaee;">Library</div>
<svg style="left:853.80px;top:254.60px;" width="4" height="3" viewBox="0 0 4 3"><path d="M0.5 0.8 H3.5 L2 2.4 Z" fill="#e6eaee"/></svg>
<div class="t" style="left:869.20px;top:255.00px;font-size:4.2px;line-height:4.2px;font-weight:700;color:#e6eaee;">Marketplace</div>
<div class="t" style="left:904.70px;top:255.00px;font-size:4.2px;line-height:4.2px;font-weight:700;color:#e6eaee;">Resources</div>
<svg style="left:927.90px;top:254.60px;" width="4" height="3" viewBox="0 0 4 3"><path d="M0.5 0.8 H3.5 L2 2.4 Z" fill="#e6eaee"/></svg>
<div class="t" style="left:943.60px;top:255.00px;font-size:4.2px;line-height:4.2px;font-weight:700;color:#e6eaee;">Administration</div>
<svg style="left:980.50px;top:250.60px;" width="10" height="10" viewBox="0 0 10 10"><path d="M2.2 7 V4.8 A2.8 2.8 0 0 1 7.8 4.8 V7 L8.6 7.8 H1.4 Z" fill="#f2f4f6"/><path d="M4 8.6 A1 1 0 0 0 6 8.6" fill="#f2f4f6"/></svg>
<div style="left:984.2px;top:250.6px;width:5.2px;height:5.2px;border-radius:50%;background:#d9392f"></div>
<div style="left:986.3px;top:251.6px;width:1px;height:2.4px;background:#fff"></div>
<div style="left:995.3px;top:251.1px;width:9.2px;height:9.2px;border-radius:50%;background:#eef0f2;overflow:hidden"><div style="left:1.6px;top:4.8px;width:6px;height:6px;border-radius:3px 3px 0 0;background:#2a3440"></div><div style="left:3.2px;top:1.2px;width:2.8px;height:3.4px;border-radius:50%;background:#b07a6a"></div><div style="left:3.3px;top:0.2px;width:2.6px;height:1.6px;border-radius:50%;background:#a070c0"></div></div>
<div style="left:499.00px;top:262.80px;width:513.00px;height:19.80px;background:#fff"></div>
<div style="left:499.00px;top:282.10px;width:513.00px;height:0.80px;background:#dfe4e8"></div>
<div class="t" style="left:506.80px;top:272.00px;font-size:4.6px;line-height:4.6px;font-weight:400;color:#4e5963;transform:scaleX(0.93);transform-origin:left center;">Workspaces</div>
<div class="t" style="left:540.00px;top:272.00px;font-size:4.6px;line-height:4.6px;font-weight:400;color:#4e5963;transform:scaleX(0.91);transform-origin:left center;">ABC Workspace</div>
<div class="t" style="left:580.40px;top:272.00px;font-size:4.6px;line-height:4.6px;font-weight:400;color:#4e5963;transform:scaleX(1.01);transform-origin:left center;">New Client Onboarding</div>
<svg style="left:534.30px;top:271.00px;" width="3" height="4" viewBox="0 0 3 4"><path d="M0.7 0.5 L2.2 2 L0.7 3.5" fill="none" stroke="#4e5963" stroke-width="0.6"/></svg>
<svg style="left:574.90px;top:271.00px;" width="3" height="4" viewBox="0 0 3 4"><path d="M0.7 0.5 L2.2 2 L0.7 3.5" fill="none" stroke="#4e5963" stroke-width="0.6"/></svg>
<svg style="left:632.90px;top:271.00px;" width="3" height="4" viewBox="0 0 3 4"><path d="M0.7 0.5 L2.2 2 L0.7 3.5" fill="none" stroke="#4e5963" stroke-width="0.6"/></svg>
<div style="left:638.5px;top:269.2px;width:8px;height:8px;border-radius:50%;background:#1f4f86"></div>
<div class="t" style="left:442.50px;width:400px;text-align:center;top:273.00px;font-size:3.2px;line-height:3.2px;font-weight:700;color:#fff;">TE</div>
<div class="t" style="left:648.00px;top:272.00px;font-size:4.8px;line-height:4.8px;font-weight:700;color:#262d34;transform:scaleX(0.86);transform-origin:left center;">Module Test</div>
<svg style="left:674.00px;top:270.80px;" width="5" height="5" viewBox="0 0 5 5"><path d="M2.5 0.3 L3.2 1.8 L4.8 1.9 L3.6 3 L4 4.6 L2.5 3.7 L1 4.6 L1.4 3 L0.2 1.9 L1.8 1.8 Z" fill="#d4a73c"/></svg>
<svg style="left:806.00px;top:270.80px;" width="5" height="5" viewBox="0 0 5 5"><g fill="none" stroke="#6a7580" stroke-width="0.5"><circle cx="2.5" cy="2.5" r="1.9"/><path d="M2.5 1.4 V2.6 H3.4"/></g></svg>
<div class="t" style="left:813.30px;top:272.00px;font-size:4.6px;line-height:4.6px;font-weight:400;color:#56616b;transform:scaleX(0.935);transform-origin:left center;">Last saved 10 minutes ago by you</div>
<svg style="left:885.50px;top:271.00px;" width="4" height="4" viewBox="0 0 4 4"><path d="M0.4 3.6 L0.6 2.7 L2.7 0.6 L3.4 1.3 L1.3 3.4 Z" fill="#2f6f8c"/></svg>
<div class="t" style="left:891.60px;top:272.00px;font-size:4.45px;line-height:4.45px;font-weight:400;color:#2f6f8c;">Editing</div>
<svg style="left:907.60px;top:272.00px;" width="4" height="3" viewBox="0 0 4 3"><path d="M0.5 0.5 H3.5 L2 2.2 Z" fill="#2f6f8c"/></svg>
<div style="left:920.00px;top:268.60px;width:9.40px;height:9.00px;border:0.8px solid #d3d9de;border-radius:1.5px;background:#fff"></div>
<div class="t" style="left:724.70px;width:400px;text-align:center;top:270.00px;font-size:5px;line-height:5px;font-weight:700;color:#4a5560;">···</div>
<div style="left:931.90px;top:268.60px;width:9.70px;height:9.00px;border:0.8px solid #d3d9de;border-radius:1.5px;background:#fff"></div>
<svg style="left:934.20px;top:270.60px;" width="5" height="5" viewBox="0 0 5 5"><path d="M0.5 0.5 H4.5 V3.4 H2 L1 4.4 V3.4 H0.5 Z" fill="none" stroke="#2f6f8c" stroke-width="0.6"/><path d="M1.4 1.6 H3.6 M1.4 2.4 H3" stroke="#2f6f8c" stroke-width="0.4"/></svg>
<div style="left:944.60px;top:268.60px;width:31.80px;height:9.00px;border:0.8px solid #d3d9de;border-radius:1.5px;background:#fff"></div>
<div style="left:968.20px;top:268.60px;width:0.80px;height:9.00px;background:#d3d9de"></div>
<div class="t" style="left:756.40px;width:400px;text-align:center;top:272.00px;font-size:4.4px;line-height:4.4px;font-weight:400;color:#4a5560;">Preview</div>
<svg style="left:970.70px;top:272.00px;" width="4" height="3" viewBox="0 0 4 3"><path d="M0.5 0.5 H3.5 L2 2.2 Z" fill="#4a5560"/></svg>
<div style="left:979.00px;top:268.60px;width:24.90px;height:9.10px;background:#2e6a88;border-radius:1.5px"></div>
<div class="t" style="left:789.00px;width:400px;text-align:center;top:272.00px;font-size:4.5px;line-height:4.5px;font-weight:400;color:#fff;">Save</div>
<svg style="left:996.80px;top:272.00px;" width="4" height="3" viewBox="0 0 4 3"><path d="M0.5 0.5 H3.5 L2 2.2 Z" fill="#fff"/></svg>
<div style="left:581.20px;top:282.60px;width:0.80px;height:347.40px;background:#dfe4e8"></div>
<div class="t" style="left:507.00px;top:293.00px;font-size:4.8px;line-height:4.8px;font-weight:700;color:#2a3640;transform:scaleX(0.92);transform-origin:left center;">Components</div>
<div class="t" style="left:548.90px;top:293.00px;font-size:4.8px;line-height:4.8px;font-weight:400;color:#4a5560;">Outline (7)</div>
<div style="left:500.00px;top:301.40px;width:81.00px;height:0.60px;background:#dfe4e8"></div>
<div style="left:502.70px;top:300.00px;width:35.30px;height:1.80px;background:#3a9fb0"></div>
<div style="left:502.70px;top:307.30px;width:75.40px;height:12.40px;border:0.8px solid #c5ccd2;border-radius:2px;background:#fff"></div>
<svg style="left:508.00px;top:311.00px;" width="5" height="5" viewBox="0 0 5 5"><g fill="none" stroke="#5a6570" stroke-width="0.6"><circle cx="2.1" cy="2.1" r="1.4"/><path d="M3.1 3.1 L4.3 4.3"/></g></svg>
<div class="t" style="left:515.90px;top:312.00px;font-size:4.5px;line-height:4.5px;font-weight:400;color:#a0a8ae;">Search components</div>
<svg style="left:567.60px;top:311.20px;" width="5" height="5" viewBox="0 0 5 5"><path d="M0.3 0.5 H4.7 L3 2.6 V4.6 L2 4 V2.6 Z" fill="#3b8fa6"/></svg>
<div style="left:502.70px;top:323.10px;width:75.30px;height:8.70px;border:0.8px solid #dde2e6;border-radius:2px;background:#fff"></div>
<div class="t" style="left:334.20px;width:400px;text-align:center;top:326.00px;font-size:4.5px;line-height:4.5px;font-weight:700;color:#2c6c88;transform:scaleX(0.92);transform-origin:center center;">Default Library</div>
<svg style="left:551.80px;top:326.40px;" width="4" height="3" viewBox="0 0 4 3"><path d="M0.5 0.5 H3.5 L2 2.2 Z" fill="#2c6c88"/></svg>
<div style="left:502.00px;top:336.00px;width:76.50px;height:0.60px;background:#dfe4e8"></div>
<div class="t" style="left:505.30px;top:342.00px;font-size:4.5px;line-height:4.5px;font-weight:700;color:#3a4550;">Frequently Used</div>
<svg style="left:568.40px;top:341.60px;" width="4" height="3" viewBox="0 0 4 3"><path d="M0.5 2.3 L2 0.8 L3.5 2.3" fill="none" stroke="#3a4550" stroke-width="0.6"/></svg>
<div style="left:505.50px;top:353.60px;width:69.90px;height:13.20px;border:0.8px solid #e3e8ec;border-radius:2px;background:#fff"></div>
<div style="left:509.80px;top:358.90px;width:3.40px;height:2.80px;border:0.6px solid #5a7a8a;border-radius:0.6px"></div>
<div class="t" style="left:516.30px;top:359.00px;font-size:4.7px;line-height:4.7px;font-weight:400;color:#2d5a6e;transform:scaleX(0.93);transform-origin:left center;">Text Field</div>
<div style="left:567.80px;top:358.10px;width:1.00px;height:1.00px;background:#b3bcc3"></div>
<div style="left:567.80px;top:359.90px;width:1.00px;height:1.00px;background:#b3bcc3"></div>
<div style="left:567.80px;top:361.70px;width:1.00px;height:1.00px;background:#b3bcc3"></div>
<div style="left:570.20px;top:358.10px;width:1.00px;height:1.00px;background:#b3bcc3"></div>
<div style="left:570.20px;top:359.90px;width:1.00px;height:1.00px;background:#b3bcc3"></div>
<div style="left:570.20px;top:361.70px;width:1.00px;height:1.00px;background:#b3bcc3"></div>
<div style="left:505.50px;top:371.30px;width:69.90px;height:13.20px;border:0.8px solid #e3e8ec;border-radius:2px;background:#fff"></div>
<div style="left:509.80px;top:376.60px;width:3.40px;height:2.80px;border:0.6px solid #5a7a8a;border-radius:0.6px"></div>
<div class="t" style="left:516.30px;top:377.00px;font-size:4.7px;line-height:4.7px;font-weight:400;color:#2d5a6e;transform:scaleX(0.93);transform-origin:left center;">Hidden</div>
<div style="left:567.80px;top:375.80px;width:1.00px;height:1.00px;background:#b3bcc3"></div>
<div style="left:567.80px;top:377.60px;width:1.00px;height:1.00px;background:#b3bcc3"></div>
<div style="left:567.80px;top:379.40px;width:1.00px;height:1.00px;background:#b3bcc3"></div>
<div style="left:570.20px;top:375.80px;width:1.00px;height:1.00px;background:#b3bcc3"></div>
<div style="left:570.20px;top:377.60px;width:1.00px;height:1.00px;background:#b3bcc3"></div>
<div style="left:570.20px;top:379.40px;width:1.00px;height:1.00px;background:#b3bcc3"></div>
<div style="left:505.50px;top:389.00px;width:69.90px;height:13.20px;border:0.8px solid #e3e8ec;border-radius:2px;background:#fff"></div>
<div style="left:509.80px;top:394.30px;width:3.40px;height:2.80px;border:0.6px solid #5a7a8a;border-radius:0.6px"></div>
<div class="t" style="left:516.30px;top:394.00px;font-size:4.7px;line-height:4.7px;font-weight:400;color:#2d5a6e;transform:scaleX(0.93);transform-origin:left center;">Initializer</div>
<div style="left:567.80px;top:393.50px;width:1.00px;height:1.00px;background:#b3bcc3"></div>
<div style="left:567.80px;top:395.30px;width:1.00px;height:1.00px;background:#b3bcc3"></div>
<div style="left:567.80px;top:397.10px;width:1.00px;height:1.00px;background:#b3bcc3"></div>
<div style="left:570.20px;top:393.50px;width:1.00px;height:1.00px;background:#b3bcc3"></div>
<div style="left:570.20px;top:395.30px;width:1.00px;height:1.00px;background:#b3bcc3"></div>
<div style="left:570.20px;top:397.10px;width:1.00px;height:1.00px;background:#b3bcc3"></div>
<div style="left:505.50px;top:406.70px;width:69.90px;height:13.20px;border:0.8px solid #e3e8ec;border-radius:2px;background:#fff"></div>
<div style="left:509.80px;top:412.00px;width:3.40px;height:2.80px;border:0.6px solid #5a7a8a;border-radius:0.6px"></div>
<div class="t" style="left:516.30px;top:412.00px;font-size:4.7px;line-height:4.7px;font-weight:400;color:#2d5a6e;transform:scaleX(0.93);transform-origin:left center;">Decisions</div>
<div style="left:567.80px;top:411.20px;width:1.00px;height:1.00px;background:#b3bcc3"></div>
<div style="left:567.80px;top:413.00px;width:1.00px;height:1.00px;background:#b3bcc3"></div>
<div style="left:567.80px;top:414.80px;width:1.00px;height:1.00px;background:#b3bcc3"></div>
<div style="left:570.20px;top:411.20px;width:1.00px;height:1.00px;background:#b3bcc3"></div>
<div style="left:570.20px;top:413.00px;width:1.00px;height:1.00px;background:#b3bcc3"></div>
<div style="left:570.20px;top:414.80px;width:1.00px;height:1.00px;background:#b3bcc3"></div>
<div style="left:505.50px;top:424.40px;width:69.90px;height:13.20px;border:0.8px solid #e3e8ec;border-radius:2px;background:#fff"></div>
<div style="left:509.80px;top:429.70px;width:3.40px;height:2.80px;border:0.6px solid #5a7a8a;border-radius:0.6px"></div>
<div class="t" style="left:516.30px;top:430.00px;font-size:4.7px;line-height:4.7px;font-weight:400;color:#2d5a6e;transform:scaleX(0.93);transform-origin:left center;">Data Workflow</div>
<div style="left:567.80px;top:428.90px;width:1.00px;height:1.00px;background:#b3bcc3"></div>
<div style="left:567.80px;top:430.70px;width:1.00px;height:1.00px;background:#b3bcc3"></div>
<div style="left:567.80px;top:432.50px;width:1.00px;height:1.00px;background:#b3bcc3"></div>
<div style="left:570.20px;top:428.90px;width:1.00px;height:1.00px;background:#b3bcc3"></div>
<div style="left:570.20px;top:430.70px;width:1.00px;height:1.00px;background:#b3bcc3"></div>
<div style="left:570.20px;top:432.50px;width:1.00px;height:1.00px;background:#b3bcc3"></div>
<div style="left:505.50px;top:442.10px;width:69.90px;height:13.20px;border:0.8px solid #e3e8ec;border-radius:2px;background:#fff"></div>
<div style="left:509.80px;top:447.40px;width:3.40px;height:2.80px;border:0.6px solid #5a7a8a;border-radius:0.6px"></div>
<div class="t" style="left:516.30px;top:448.00px;font-size:4.7px;line-height:4.7px;font-weight:400;color:#2d5a6e;transform:scaleX(0.93);transform-origin:left center;">Calculator</div>
<div style="left:567.80px;top:446.60px;width:1.00px;height:1.00px;background:#b3bcc3"></div>
<div style="left:567.80px;top:448.40px;width:1.00px;height:1.00px;background:#b3bcc3"></div>
<div style="left:567.80px;top:450.20px;width:1.00px;height:1.00px;background:#b3bcc3"></div>
<div style="left:570.20px;top:446.60px;width:1.00px;height:1.00px;background:#b3bcc3"></div>
<div style="left:570.20px;top:448.40px;width:1.00px;height:1.00px;background:#b3bcc3"></div>
<div style="left:570.20px;top:450.20px;width:1.00px;height:1.00px;background:#b3bcc3"></div>
<div style="left:505.50px;top:459.80px;width:69.90px;height:13.20px;border:0.8px solid #e3e8ec;border-radius:2px;background:#fff"></div>
<div style="left:509.80px;top:465.10px;width:3.40px;height:2.80px;border:0.6px solid #5a7a8a;border-radius:0.6px"></div>
<div class="t" style="left:516.30px;top:465.00px;font-size:4.7px;line-height:4.7px;font-weight:400;color:#2d5a6e;transform:scaleX(0.93);transform-origin:left center;">Plug-In</div>
<div style="left:567.80px;top:464.30px;width:1.00px;height:1.00px;background:#b3bcc3"></div>
<div style="left:567.80px;top:466.10px;width:1.00px;height:1.00px;background:#b3bcc3"></div>
<div style="left:567.80px;top:467.90px;width:1.00px;height:1.00px;background:#b3bcc3"></div>
<div style="left:570.20px;top:464.30px;width:1.00px;height:1.00px;background:#b3bcc3"></div>
<div style="left:570.20px;top:466.10px;width:1.00px;height:1.00px;background:#b3bcc3"></div>
<div style="left:570.20px;top:467.90px;width:1.00px;height:1.00px;background:#b3bcc3"></div>
<div style="left:505.50px;top:477.50px;width:69.90px;height:13.20px;border:0.8px solid #e3e8ec;border-radius:2px;background:#fff"></div>
<div style="left:509.80px;top:482.80px;width:3.40px;height:2.80px;border:0.6px solid #5a7a8a;border-radius:0.6px"></div>
<div class="t" style="left:516.30px;top:483.00px;font-size:4.7px;line-height:4.7px;font-weight:400;color:#2d5a6e;transform:scaleX(0.93);transform-origin:left center;">Panel</div>
<div style="left:567.80px;top:482.00px;width:1.00px;height:1.00px;background:#b3bcc3"></div>
<div style="left:567.80px;top:483.80px;width:1.00px;height:1.00px;background:#b3bcc3"></div>
<div style="left:567.80px;top:485.60px;width:1.00px;height:1.00px;background:#b3bcc3"></div>
<div style="left:570.20px;top:482.00px;width:1.00px;height:1.00px;background:#b3bcc3"></div>
<div style="left:570.20px;top:483.80px;width:1.00px;height:1.00px;background:#b3bcc3"></div>
<div style="left:570.20px;top:485.60px;width:1.00px;height:1.00px;background:#b3bcc3"></div>
<div style="left:505.50px;top:495.20px;width:69.90px;height:13.20px;border:0.8px solid #e3e8ec;border-radius:2px;background:#fff"></div>
<div style="left:509.80px;top:500.50px;width:3.40px;height:2.80px;border:0.6px solid #5a7a8a;border-radius:0.6px"></div>
<div class="t" style="left:516.30px;top:501.00px;font-size:4.7px;line-height:4.7px;font-weight:400;color:#2d5a6e;transform:scaleX(0.93);transform-origin:left center;">Columns</div>
<div style="left:567.80px;top:499.70px;width:1.00px;height:1.00px;background:#b3bcc3"></div>
<div style="left:567.80px;top:501.50px;width:1.00px;height:1.00px;background:#b3bcc3"></div>
<div style="left:567.80px;top:503.30px;width:1.00px;height:1.00px;background:#b3bcc3"></div>
<div style="left:570.20px;top:499.70px;width:1.00px;height:1.00px;background:#b3bcc3"></div>
<div style="left:570.20px;top:501.50px;width:1.00px;height:1.00px;background:#b3bcc3"></div>
<div style="left:570.20px;top:503.30px;width:1.00px;height:1.00px;background:#b3bcc3"></div>
<div style="left:505.50px;top:512.90px;width:69.90px;height:13.20px;border:0.8px solid #e3e8ec;border-radius:2px;background:#fff"></div>
<div style="left:509.80px;top:518.20px;width:3.40px;height:2.80px;border:0.6px solid #5a7a8a;border-radius:0.6px"></div>
<div class="t" style="left:516.30px;top:518.00px;font-size:4.7px;line-height:4.7px;font-weight:400;color:#2d5a6e;transform:scaleX(0.93);transform-origin:left center;">Button</div>
<div style="left:567.80px;top:517.40px;width:1.00px;height:1.00px;background:#b3bcc3"></div>
<div style="left:567.80px;top:519.20px;width:1.00px;height:1.00px;background:#b3bcc3"></div>
<div style="left:567.80px;top:521.00px;width:1.00px;height:1.00px;background:#b3bcc3"></div>
<div style="left:570.20px;top:517.40px;width:1.00px;height:1.00px;background:#b3bcc3"></div>
<div style="left:570.20px;top:519.20px;width:1.00px;height:1.00px;background:#b3bcc3"></div>
<div style="left:570.20px;top:521.00px;width:1.00px;height:1.00px;background:#b3bcc3"></div>
<div style="left:505.50px;top:530.60px;width:69.90px;height:13.20px;border:0.8px solid #e3e8ec;border-radius:2px;background:#fff"></div>
<div style="left:509.80px;top:535.90px;width:3.40px;height:2.80px;border:0.6px solid #5a7a8a;border-radius:0.6px"></div>
<div class="t" style="left:516.30px;top:536.00px;font-size:4.7px;line-height:4.7px;font-weight:400;color:#2d5a6e;transform:scaleX(0.93);transform-origin:left center;">HTML Element</div>
<div style="left:567.80px;top:535.10px;width:1.00px;height:1.00px;background:#b3bcc3"></div>
<div style="left:567.80px;top:536.90px;width:1.00px;height:1.00px;background:#b3bcc3"></div>
<div style="left:567.80px;top:538.70px;width:1.00px;height:1.00px;background:#b3bcc3"></div>
<div style="left:570.20px;top:535.10px;width:1.00px;height:1.00px;background:#b3bcc3"></div>
<div style="left:570.20px;top:536.90px;width:1.00px;height:1.00px;background:#b3bcc3"></div>
<div style="left:570.20px;top:538.70px;width:1.00px;height:1.00px;background:#b3bcc3"></div>
<div style="left:582.00px;top:282.60px;width:426.00px;height:14.40px;background:#fff"></div>
<div style="left:582.00px;top:296.60px;width:426.00px;height:0.60px;background:#dfe4e8"></div>
<div class="t" style="left:590.30px;top:289.00px;font-size:4.8px;line-height:4.8px;font-weight:700;color:#28333d;transform:scaleX(0.915);transform-origin:left center;">Runtime Version:</div>
<div class="t" style="left:630.80px;top:289.00px;font-size:4.5px;line-height:4.5px;font-weight:400;color:#2f6f8c;">Vega (2.0)</div>
<svg style="left:654.60px;top:289.20px;" width="4" height="3" viewBox="0 0 4 3"><path d="M0.5 0.5 H3.5 L2 2.2 Z" fill="#2f6f8c"/></svg>
<div style="left:582.00px;top:297.20px;width:423.00px;height:332.80px;background:#e6ebee"></div>
<div style="left:1005.00px;top:282.60px;width:7.00px;height:347.40px;background:#fbfcfd"></div>
<div style="left:1004.60px;top:282.60px;width:0.70px;height:347.40px;background:#e3e8ec"></div>
<svg style="left:1005.50px;top:293.50px;" width="3" height="4" viewBox="0 0 3 4"><path d="M2.2 0.5 L0.7 2 L2.2 3.5" fill="none" stroke="#4a6a80" stroke-width="0.6"/></svg>
<div style="left:588.00px;top:303.30px;width:413.50px;height:336.70px;background:#fff"></div>
<div style="left:595.50px;top:310.50px;width:399.00px;height:78.10px;border:0.8px solid #e4e9ec;border-radius:1.5px"></div>
<div style="left:595.50px;top:310.50px;width:399.00px;height:13.70px;background:#e3e9ed"></div>
<div style="left:599.10px;top:315.75px;width:3.20px;height:3.20px;border:0.6px solid #6a7580;border-radius:0.4px"></div>
<div class="t" style="left:606.90px;top:316.00px;font-size:4.6px;line-height:4.6px;font-weight:700;color:#2e3a44;transform:scaleX(0.88);transform-origin:left center;">Dashboard Container</div>
<div style="left:946.1px;top:314.55px;width:10.9px;height:5.6px;border-radius:3px;background:#1e2328"></div>
<div class="t" style="left:949.00px;top:317.00px;font-size:3.6px;line-height:3.6px;font-weight:700;color:#fff;">7</div>
<div style="left:951.6px;top:315.75px;width:3.2px;height:3.2px;border-radius:50%;background:#fff"></div>
<div style="left:961.4px;top:314.55px;width:15.7px;height:5.6px;border-radius:3px;background:#2c5a7c"></div>
<div class="t" style="left:769.20px;width:400px;text-align:center;top:317.00px;font-size:3.3px;line-height:3.3px;font-weight:700;color:#fff;">VEGA</div>
<div style="left:981.20px;top:314.35px;width:0.60px;height:6.00px;background:#c3cbd1"></div>
<svg style="left:985.80px;top:315.85px;" width="4" height="3" viewBox="0 0 4 3"><path d="M0.5 0.6 L2 2.1 L3.5 0.6" fill="none" stroke="#3a4550" stroke-width="0.6"/></svg>
<svg style="left:652.60px;top:315.40px;" width="4" height="4" viewBox="0 0 4 4"><path d="M3.2 1.2 A1.5 1.5 0 1 0 3.4 2.6" fill="none" stroke="#3b8fa6" stroke-width="0.55"/><path d="M2.6 0.4 L3.4 1.3 L2.3 1.6" fill="none" stroke="#3b8fa6" stroke-width="0.45"/></svg>
<div style="left:600.30px;top:327.70px;width:390.30px;height:57.50px;border:0.8px solid #e4e9ec;border-radius:1.5px"></div>
<div style="left:600.30px;top:327.70px;width:390.30px;height:11.30px;background:#e3e9ed"></div>
<div style="left:603.60px;top:331.60px;width:3.80px;height:3.30px;background:#3a4550;border-radius:0.4px"></div>
<div class="t" style="left:610.80px;top:332.00px;font-size:4.6px;line-height:4.6px;font-weight:700;color:#2e3a44;transform:scaleX(0.88);transform-origin:left center;">Columns</div>
<div style="left:604.00px;top:345.50px;width:124.80px;height:37.50px;border:0.8px solid #e4e9ec;border-radius:1.5px"></div>
<div style="left:604.00px;top:345.50px;width:124.80px;height:12.30px;background:#e3e9ed"></div>
<div style="left:607.60px;top:350.00px;width:3.00px;height:3.20px;border:0.6px solid #6a7580;border-radius:0.4px"></div>
<div class="t" style="left:614.80px;top:350.00px;font-size:4.6px;line-height:4.6px;font-weight:700;color:#2e3a44;transform:scaleX(0.88);transform-origin:left center;">widgetKPIs</div>
<div style="left:715.20px;top:347.80px;width:0.60px;height:7.80px;background:#c3cbd1"></div>
<svg style="left:720.00px;top:350.20px;" width="4" height="3" viewBox="0 0 4 3"><path d="M0.5 0.6 L2 2.1 L3.5 0.6" fill="none" stroke="#3a4550" stroke-width="0.6"/></svg>
<div class="t" style="left:608.00px;top:363.00px;font-size:5.24px;line-height:5.24px;font-weight:400;color:#3a4045;">Imported: <span style="color:#4a8597">66faf422c8b4593e2e5cbc96</span></div>
<div class="t" style="left:608.00px;top:374.00px;font-size:5.0px;line-height:5.0px;font-weight:400;color:#4a7a8f;">Preview Module</div>
<div style="left:732.50px;top:345.50px;width:124.80px;height:37.50px;border:0.8px solid #e4e9ec;border-radius:1.5px"></div>
<div style="left:732.50px;top:345.50px;width:124.80px;height:12.30px;background:#e3e9ed"></div>
<div style="left:736.10px;top:350.00px;width:3.00px;height:3.20px;border:0.6px solid #6a7580;border-radius:0.4px"></div>
<div class="t" style="left:743.30px;top:350.00px;font-size:4.6px;line-height:4.6px;font-weight:700;color:#2e3a44;transform:scaleX(0.88);transform-origin:left center;">widgetDonut</div>
<div style="left:843.70px;top:347.80px;width:0.60px;height:7.80px;background:#c3cbd1"></div>
<svg style="left:848.50px;top:350.20px;" width="4" height="3" viewBox="0 0 4 3"><path d="M0.5 0.6 L2 2.1 L3.5 0.6" fill="none" stroke="#3a4550" stroke-width="0.6"/></svg>
<div class="t" style="left:736.50px;top:363.00px;font-size:5.24px;line-height:5.24px;font-weight:400;color:#3a4045;">Imported: <span style="color:#4a8597">66faf422c8b4593e2e5cbc96</span></div>
<div class="t" style="left:736.50px;top:374.00px;font-size:5.0px;line-height:5.0px;font-weight:400;color:#4a7a8f;">Preview Module</div>
<div style="left:861.60px;top:345.50px;width:124.40px;height:37.50px;border:0.8px solid #e4e9ec;border-radius:1.5px"></div>
<div style="left:861.60px;top:345.50px;width:124.40px;height:12.30px;background:#e3e9ed"></div>
<div style="left:865.20px;top:350.00px;width:3.00px;height:3.20px;border:0.6px solid #6a7580;border-radius:0.4px"></div>
<div class="t" style="left:872.40px;top:350.00px;font-size:4.6px;line-height:4.6px;font-weight:700;color:#2e3a44;transform:scaleX(0.88);transform-origin:left center;">widgetPinned</div>
<div style="left:972.40px;top:347.80px;width:0.60px;height:7.80px;background:#c3cbd1"></div>
<svg style="left:977.20px;top:350.20px;" width="4" height="3" viewBox="0 0 4 3"><path d="M0.5 0.6 L2 2.1 L3.5 0.6" fill="none" stroke="#3a4550" stroke-width="0.6"/></svg>
<div class="t" style="left:865.60px;top:363.00px;font-size:5.24px;line-height:5.24px;font-weight:400;color:#3a4045;">Imported: <span style="color:#4a8597">66faf422c8b4593e2e5cbc96</span></div>
<div class="t" style="left:865.60px;top:374.00px;font-size:5.0px;line-height:5.0px;font-weight:400;color:#4a7a8f;">Preview Module</div>
<div style="left:595.50px;top:393.50px;width:399.00px;height:47.10px;border:0.8px solid #e4e9ec;border-radius:1.5px"></div>
<div style="left:595.50px;top:393.50px;width:399.00px;height:12.90px;background:#e3e9ed"></div>
<div style="left:599.10px;top:398.35px;width:3.20px;height:3.20px;border:0.6px solid #6a7580;border-radius:0.4px"></div>
<div class="t" style="left:606.90px;top:398.00px;font-size:4.6px;line-height:4.6px;font-weight:700;color:#2e3a44;transform:scaleX(0.88);transform-origin:left center;">fgDynamicRefreshLogic</div>
<div style="left:946.1px;top:397.15px;width:10.9px;height:5.6px;border-radius:3px;background:#1e2328"></div>
<div class="t" style="left:949.00px;top:399.00px;font-size:3.6px;line-height:3.6px;font-weight:700;color:#fff;">7</div>
<div style="left:951.6px;top:398.35px;width:3.2px;height:3.2px;border-radius:50%;background:#fff"></div>
<div style="left:961.4px;top:397.15px;width:15.7px;height:5.6px;border-radius:3px;background:#2c5a7c"></div>
<div class="t" style="left:769.20px;width:400px;text-align:center;top:399.00px;font-size:3.3px;line-height:3.3px;font-weight:700;color:#fff;">VEGA</div>
<div style="left:981.20px;top:396.95px;width:0.60px;height:6.00px;background:#c3cbd1"></div>
<svg style="left:985.80px;top:398.45px;" width="4" height="3" viewBox="0 0 4 3"><path d="M0.5 0.6 L2 2.1 L3.5 0.6" fill="none" stroke="#3a4550" stroke-width="0.6"/></svg>
<svg style="left:656.60px;top:398.00px;" width="4" height="4" viewBox="0 0 4 4"><path d="M3.2 1.2 A1.5 1.5 0 1 0 3.4 2.6" fill="none" stroke="#3b8fa6" stroke-width="0.55"/><path d="M2.6 0.4 L3.4 1.3 L2.3 1.6" fill="none" stroke="#3b8fa6" stroke-width="0.45"/></svg>
<div style="left:599.80px;top:410.60px;width:390.90px;height:11.30px;background:#f7e6fc;border:0.8px solid #cbb6d3;border-radius:1.5px"></div>
<div style="left:604.00px;top:414.65px;width:3.20px;height:3.20px;border:0.6px solid #7a3f98;border-radius:0.4px"></div>
<div class="t" style="left:610.80px;top:415.00px;font-size:4.6px;line-height:4.6px;font-weight:700;color:#7b3d9a;transform:scaleX(0.88);transform-origin:left center;">initDynamicRefresh</div>
<div style="left:599.80px;top:425.80px;width:390.90px;height:10.90px;background:#f7e6fc;border:0.8px solid #cbb6d3;border-radius:1.5px"></div>
<div style="left:604.00px;top:429.65px;width:3.20px;height:3.20px;border:0.6px solid #7a3f98;border-radius:0.4px"></div>
<div class="t" style="left:610.80px;top:430.00px;font-size:4.6px;line-height:4.6px;font-weight:700;color:#7b3d9a;transform:scaleX(0.88);transform-origin:left center;">plugGetWidget</div>
<div style="left:595.50px;top:444.50px;width:399.00px;height:56.50px;border:0.8px solid #e4e9ec;border-radius:1.5px"></div>
<div style="left:595.50px;top:444.50px;width:399.00px;height:13.50px;background:#e3e9ed"></div>
<div style="left:599.10px;top:449.65px;width:3.20px;height:3.20px;border:0.6px solid #6a7580;border-radius:0.4px"></div>
<div class="t" style="left:606.90px;top:450.00px;font-size:4.6px;line-height:4.6px;font-weight:700;color:#2e3a44;transform:scaleX(0.88);transform-origin:left center;">grid</div>
<div style="left:946.1px;top:448.45px;width:10.9px;height:5.6px;border-radius:3px;background:#1e2328"></div>
<div class="t" style="left:949.00px;top:451.00px;font-size:3.6px;line-height:3.6px;font-weight:700;color:#fff;">7</div>
<div style="left:951.6px;top:449.65px;width:3.2px;height:3.2px;border-radius:50%;background:#fff"></div>
<div style="left:961.4px;top:448.45px;width:15.7px;height:5.6px;border-radius:3px;background:#2c5a7c"></div>
<div class="t" style="left:769.20px;width:400px;text-align:center;top:450.00px;font-size:3.3px;line-height:3.3px;font-weight:700;color:#fff;">VEGA</div>
<div style="left:981.20px;top:448.25px;width:0.60px;height:6.00px;background:#c3cbd1"></div>
<svg style="left:985.80px;top:449.75px;" width="4" height="3" viewBox="0 0 4 3"><path d="M0.5 0.6 L2 2.1 L3.5 0.6" fill="none" stroke="#3a4550" stroke-width="0.6"/></svg>
<svg style="left:617.80px;top:449.30px;" width="4" height="4" viewBox="0 0 4 4"><path d="M3.2 1.2 A1.5 1.5 0 1 0 3.4 2.6" fill="none" stroke="#3b8fa6" stroke-width="0.55"/><path d="M2.6 0.4 L3.4 1.3 L2.3 1.6" fill="none" stroke="#3b8fa6" stroke-width="0.45"/></svg>
<div style="left:599.80px;top:461.20px;width:390.90px;height:21.30px;border:0.8px solid #e6eaed;border-radius:1.5px"></div>
<div style="left:604.00px;top:465.60px;width:3.40px;height:3.20px;background:#2a3138;border-radius:0.6px"></div>
<div class="t" style="left:610.80px;top:466.00px;font-size:4.6px;line-height:4.6px;font-weight:700;color:#2e3a44;transform:scaleX(0.9);transform-origin:left center;">Search Select</div>
<div class="t" style="left:604.00px;top:474.00px;font-size:5.1px;line-height:5.1px;font-weight:400;color:#3a4045;">Search people, cases, meetings and more...</div>
<svg style="left:981.80px;top:474.00px;" width="5" height="5" viewBox="0 0 5 5"><g fill="none" stroke="#3b8fa6" stroke-width="0.6"><circle cx="2" cy="2" r="1.4"/><path d="M3 3 L4.2 4.2"/></g></svg>
<div style="left:599.80px;top:486.30px;width:390.90px;height:10.70px;background:#f7e6fc;border:0.8px solid #cbb6d3;border-radius:1.5px"></div>
<div style="left:604.00px;top:490.00px;width:3.20px;height:3.20px;border:0.6px solid #7a3f98;border-radius:0.4px;background:#7a3f98"></div>
<div class="t" style="left:610.80px;top:490.00px;font-size:4.6px;line-height:4.6px;font-weight:700;color:#7b3d9a;transform:scaleX(0.88);transform-origin:left center;">dtOpportunities</div>
<div style="left:595.50px;top:505.30px;width:399.00px;height:134.70px;border:0.8px solid #e4e9ec;border-radius:1.5px"></div>
<div style="left:595.50px;top:505.30px;width:399.00px;height:12.90px;background:#e3e9ed"></div>
<div style="left:599.10px;top:510.15px;width:3.20px;height:3.20px;border:0.6px solid #6a7580;border-radius:0.4px"></div>
<div class="t" style="left:606.90px;top:510.00px;font-size:4.6px;line-height:4.6px;font-weight:700;color:#2e3a44;transform:scaleX(0.88);transform-origin:left center;">Help</div>
<div style="left:946.1px;top:508.95px;width:10.9px;height:5.6px;border-radius:3px;background:#1e2328"></div>
<div class="t" style="left:949.00px;top:511.00px;font-size:3.6px;line-height:3.6px;font-weight:700;color:#fff;">7</div>
<div style="left:951.6px;top:510.15px;width:3.2px;height:3.2px;border-radius:50%;background:#fff"></div>
<div style="left:961.4px;top:508.95px;width:15.7px;height:5.6px;border-radius:3px;background:#2c5a7c"></div>
<div class="t" style="left:769.20px;width:400px;text-align:center;top:511.00px;font-size:3.3px;line-height:3.3px;font-weight:700;color:#fff;">VEGA</div>
<div style="left:981.20px;top:508.75px;width:0.60px;height:6.00px;background:#c3cbd1"></div>
<svg style="left:985.80px;top:510.25px;" width="4" height="3" viewBox="0 0 4 3"><path d="M0.5 0.6 L2 2.1 L3.5 0.6" fill="none" stroke="#3a4550" stroke-width="0.6"/></svg>
<svg style="left:618.80px;top:509.80px;" width="4" height="4" viewBox="0 0 4 4"><path d="M3.2 1.2 A1.5 1.5 0 1 0 3.4 2.6" fill="none" stroke="#3b8fa6" stroke-width="0.55"/><path d="M2.6 0.4 L3.4 1.3 L2.3 1.6" fill="none" stroke="#3b8fa6" stroke-width="0.45"/></svg>
<div style="left:600.40px;top:522.20px;width:390.20px;height:117.80px;border:0.8px solid #e4e9ec;border-radius:1.5px"></div>
<div style="left:600.40px;top:522.20px;width:390.20px;height:10.80px;background:#e3e9ed"></div>
<div style="left:603.80px;top:525.90px;width:3.80px;height:3.30px;border:0.6px solid #3a4550;border-radius:0.4px;background:#3a4550"></div>
<div class="t" style="left:611.00px;top:526.00px;font-size:4.6px;line-height:4.6px;font-weight:700;color:#2e3a44;transform:scaleX(0.88);transform-origin:left center;">Columns</div>
<div style="left:604.50px;top:540.00px;width:188.00px;height:37.80px;border:0.8px solid #e8ecef;border-radius:1.5px"></div>
<div style="left:608.50px;top:544.20px;width:2.80px;height:2.40px;background:#5a6570;border-radius:0.4px"></div>
<div class="t" style="left:615.30px;top:544.00px;font-size:4.6px;line-height:4.6px;font-weight:700;color:#2e3a44;transform:scaleX(0.88);transform-origin:left center;">Text Field</div>
<div class="t" style="left:607.80px;top:552.00px;font-size:5.2px;line-height:5.2px;font-weight:400;color:#2e3438;">Full Name</div>
<div style="left:607.70px;top:561.40px;width:181.50px;height:12.40px;border:0.8px solid #c2c8cd;border-radius:1px;background:#fff"></div>
<div class="t" style="left:611.80px;top:565.00px;font-size:5.2px;line-height:5.2px;font-weight:400;color:#9aa1a7;">Enter Full Name</div>
<div style="left:797.40px;top:540.00px;width:188.60px;height:37.80px;border:0.8px solid #e8ecef;border-radius:1.5px"></div>
<div style="left:801.40px;top:544.20px;width:2.80px;height:2.40px;background:#5a6570;border-radius:0.4px"></div>
<div class="t" style="left:808.20px;top:544.00px;font-size:4.6px;line-height:4.6px;font-weight:700;color:#2e3a44;transform:scaleX(0.88);transform-origin:left center;">Text Field</div>
<div class="t" style="left:800.70px;top:552.00px;font-size:5.2px;line-height:5.2px;font-weight:400;color:#2e3438;">Email address</div>
<div style="left:800.60px;top:561.40px;width:182.10px;height:12.40px;border:0.8px solid #c2c8cd;border-radius:1px;background:#fff"></div>
<div class="t" style="left:804.70px;top:565.00px;font-size:5.2px;line-height:5.2px;font-weight:400;color:#9aa1a7;">name@domain.com</div>
<div style="left:604.50px;top:585.40px;width:381.50px;height:26.20px;border:0.8px solid #e8ecef;border-radius:1.5px"></div>
<div style="left:608.60px;top:589.00px;width:3.00px;height:3.00px;background:#3a4550;border-radius:0.4px"></div>
<div class="t" style="left:615.20px;top:589.00px;font-size:4.6px;line-height:4.6px;font-weight:700;color:#2e3a44;transform:scaleX(0.9);transform-origin:left center;">Address Search</div>
<div style="left:607.60px;top:596.40px;width:375.20px;height:12.00px;border:0.8px solid #c2c8cd;border-radius:1px;background:#fff"></div>
<div class="t" style="left:611.60px;top:600.00px;font-size:5.2px;line-height:5.2px;font-weight:400;color:#9aa1a7;">Search your address</div>
<svg style="left:975.50px;top:600.60px;" width="4" height="3" viewBox="0 0 4 3"><path d="M0.5 0.6 L2 2.1 L3.5 0.6" fill="none" stroke="#3a4550" stroke-width="0.7"/></svg>
<div style="left:599.80px;top:617.60px;width:26.20px;height:14.40px;background:#2e6f8e;border-radius:1.5px"></div>
<div class="t" style="left:412.90px;width:400px;text-align:center;top:622.00px;font-size:4.6px;line-height:4.6px;font-weight:700;color:#fff;">Submit</div>
</div></div>
<div style="left:499.00px;top:248.30px;width:513.20px;height:381.70px;border:1.7px solid #c9cccf;border-radius:6px"></div>
<div style="left:4.00px;top:443.50px;width:348.00px;height:228.00px;background:#eeeeef;border-radius:16px;box-shadow:1px 1px 5px rgba(0,0,0,.22)"></div>
<div class="t" style="left:35.3px;top:467.5px;font-size:101.5px;line-height:101.5px;font-weight:700;color:#4934c4;background:linear-gradient(180deg,#4533b5 0%,#4a35c4 50%,#5138d1 100%);-webkit-background-clip:text;background-clip:text;-webkit-text-fill-color:transparent">3</div>
<div class="t" style="left:91.1px;top:473.8px;font-size:92.3px;line-height:92.3px;font-weight:700;color:#4934c4;transform:scaleX(0.97);transform-origin:left top;background:linear-gradient(180deg,#4533b5 0%,#4a35c4 50%,#5138d1 100%);-webkit-background-clip:text;background-clip:text;-webkit-text-fill-color:transparent">x</div>
<div class="t" style="left:32.80px;top:579.00px;font-size:24px;line-height:24px;font-weight:400;color:#2b2b2c;letter-spacing:0.82px">Faster time to market for</div>
<div class="t" style="left:33.20px;top:613.00px;font-size:24px;line-height:24px;font-weight:400;color:#2b2b2c;letter-spacing:0.82px">new applications</div>
</body></html>
